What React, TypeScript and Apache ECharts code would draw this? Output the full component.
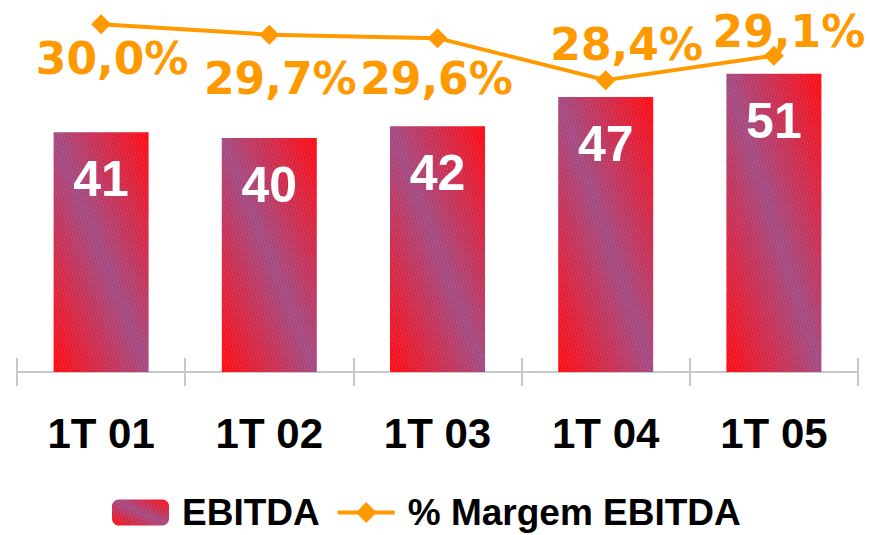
import React, { useEffect, useRef } from "react";
import * as echarts from "echarts";

const categories = ["1T 01", "1T 02", "1T 03", "1T 04", "1T 05"];
const ebitdaValues = [41, 40, 42, 47, 51];
const marginValues = [30.0, 29.7, 29.6, 28.4, 29.1];
const seriesNames = ["EBITDA", "% Margem EBITDA"];

// label offsets (style) for the margin labels
const marginLabelOffsets = [
  [11, 34],
  [11, 44],
  [-1, 40],
  [21, -36],
  [15, -24],
];

const ORANGE = "#FF9900";

export default function App() {
  const ref = useRef<HTMLDivElement>(null);

  useEffect(() => {
    if (!ref.current) return;
    const chart = echarts.init(ref.current, null, { renderer: "svg" });

    const barGradient = new echarts.graphic.LinearGradient(1, 0, 0, 1, [
      { offset: 0, color: "#ff0a12" },
      { offset: 0.5, color: "#a34a82" },
      { offset: 1, color: "#ff0a12" },
    ]);

    chart.setOption({
      animation: false,
      backgroundColor: "#ffffff",
      grid: { left: 17, right: 12, top: 21, bottom: 163 },
      legend: {
        data: seriesNames,
        left: 112,
        top: 494,
        padding: 0,
        itemWidth: 57,
        itemHeight: 26,
        itemGap: 16,
        lineStyle: { width: 4 },
        textStyle: {
          fontFamily: "Liberation Sans",
          fontWeight: "bold",
          fontSize: 37,
          lineHeight: 34,
          color: "#000000",
          padding: [0, 0, 0, 8],
        },
      },
      xAxis: [
        {
          type: "category",
          data: categories,
          position: "bottom",
          axisLine: { lineStyle: { color: "#c8c8c8", width: 2 } },
          axisTick: { show: true, length: 14, lineStyle: { color: "#c8c8c8", width: 2 } },
          axisLabel: {
            margin: 40,
            fontFamily: "Liberation Sans",
            fontWeight: "bold",
            fontSize: 42,
            color: "#000000",
          },
        },
        {
          type: "category",
          data: categories,
          position: "bottom",
          axisLine: { show: false },
          axisTick: { show: true, inside: true, length: 14, lineStyle: { color: "#c8c8c8", width: 2 } },
          axisLabel: { show: false },
        },
      ],
      yAxis: [
        { type: "value", min: 0, max: 60, show: false },
        { type: "value", min: 20.06, max: 30.09, show: false },
      ],
      series: [
        {
          name: seriesNames[0],
          type: "bar",
          data: ebitdaValues,
          barWidth: 95,
          itemStyle: {
            color: barGradient,
            decal: {
              symbol: "rect",
              symbolSize: 1,
              color: "rgba(255,255,255,0.12)",
              dashArrayX: [1, 2],
              dashArrayY: [3, 1],
              rotation: 0.3,
            },
          },
          label: {
            show: true,
            position: "insideTop",
            distance: 22,
            fontFamily: "Liberation Sans",
            fontWeight: "bold",
            fontSize: 50,
            lineHeight: 50,
            color: "#ffffff",
          },
        },
        {
          name: seriesNames[1],
          type: "line",
          yAxisIndex: 1,
          data: marginValues.map((v, i) => ({
            value: v,
            label: { offset: marginLabelOffsets[i] },
          })),
          symbol: "diamond",
          symbolSize: 20,
          z: 5,
          lineStyle: { color: ORANGE, width: 4 },
          itemStyle: { color: ORANGE },
          label: {
            show: true,
            position: "inside",
            fontFamily: "DejaVu Sans",
            fontWeight: "bold",
            fontSize: 44,
            color: ORANGE,
            formatter: (p: any) => p.value.toFixed(1).replace(".", ",") + "%",
          },
        },
      ],
    });

    return () => chart.dispose();
  }, []);

  return (
    <div
      ref={ref}
      style={{ position: "fixed", left: 0, top: 0, width: 870, height: 535 }}
    />
  );
}
